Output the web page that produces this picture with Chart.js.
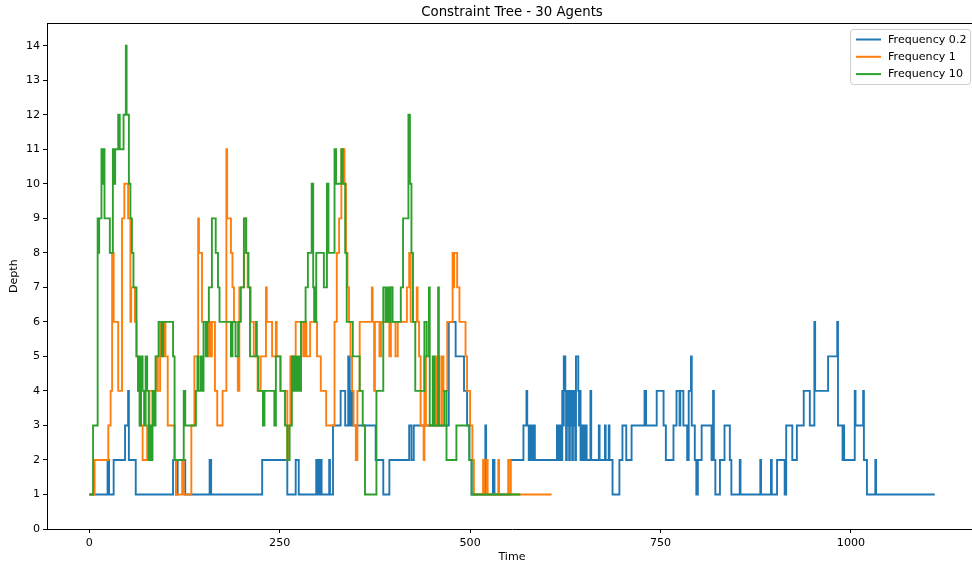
<!DOCTYPE html>
<html><head><meta charset="utf-8">
<script src="https://cdn.jsdelivr.net/npm/chart.js@4/dist/chart.umd.min.js"></script>
<style>
html,body{margin:0;padding:0;background:#fff;overflow:hidden}
#wrap{width:972px;height:565px;overflow:hidden;position:relative;background:#fff}
canvas{display:block}
</style></head>
<body><div id="wrap"><canvas id="c" width="980" height="565"></canvas></div>
<script>
const chartTitle = 'Constraint Tree - 30 Agents';
const xLabel = 'Time';
const yLabel = 'Depth';
const seriesLabels = ['Frequency 0.2', 'Frequency 1', 'Frequency 10'];
const seriesColors = ['#1f77b4', '#ff7f0e', '#2ca02c'];
const xTickValues = [0, 250, 500, 750, 1000];
const yTickValues = [0,1,2,3,4,5,6,7,8,9,10,11,12,13,14];

// Frequency 0.2 : time at which depth changes, and the new depth
const freq02Time = [0,24,26,32,47,51,52,61,110,114,116,126,158,160,227,260,271,275,298,299,301,302,304,305,315,316,
  320,330,336,340,342,344,346,376,386,394,420,423,426,472,481,492,496,499,502,520,521,530,532,553,
  570,574,575,577,579,581,583,585,614,616,618,620,
  621,622,623,625,626,627,628,629,630,631,632,633,634,635,636,637,638,639,642,643,644,645,
  647,649,651,653,658,659,669,670,677,678,682,683,687,696,700,705,712,729,731,745,754,757,767,771,775,776,780,785,
  787,790,791,795,797,799,804,817,819,820,822,828,834,841,843,854,855,881,882,895,896,903,913,915,923,929,
  938,946,952,953,970,982,983,989,990,991,1005,1006,1016,1017,1021,1032,1033,1110];
const freq02Depth = [1,2,1,2,3,4,2,1,2,1,2,1,2,1,2,1,2,1,2,1,2,1,2,1,2,1,
  3,4,3,5,3,4,3,2,1,2,3,2,3,6,5,4,3,2,1,3,1,2,1,2,
  3,4,3,2,3,2,3,2,3,2,3,2,
  4,3,5,4,2,4,3,4,2,4,3,4,2,4,3,4,2,5,4,3,4,2,
  3,2,3,2,4,2,3,2,3,2,3,2,1,2,3,2,3,4,3,4,3,2,3,4,3,4,3,2,
  4,5,3,2,1,2,3,2,4,2,1,2,3,2,1,2,1,2,1,2,1,2,1,3,2,3,
  4,3,6,4,5,6,3,2,3,2,4,3,4,2,1,2,1,1];

// Frequency 1
const freq1Time = [0,7,25,28,30,32,38,43,46,51,54,55,60,62,64,67,70,76,79,88,90,93,96,98,100,103,112,114,122,124,
  134,138,143,144,148,156,158,160,161,165,168,175,180,181,186,188,190,195,197,203,205,206,208,212,216,221,225,
  232,233,240,245,246,251,260,262,264,271,281,283,285,290,295,296,299,304,311,322,325,328,331,335,337,339,341,
  343,345,347,350,352,355,371,372,374,375,381,383,394,396,398,402,405,417,420,422,430,431,433,435,439,440,442,
  455,456,459,460,463,465,470,477,478,479,483,486,494,496,500,503,505,517,519,522,523,537,538,550,553,607];
const freq1Depth = [1,2,3,4,8,6,4,9,10,9,6,7,6,5,4,3,2,3,4,5,4,6,5,6,5,3,2,1,2,1,
  3,5,9,8,6,5,6,5,6,4,3,4,11,9,8,7,6,4,7,8,9,8,7,6,5,4,5,
  7,6,5,6,5,4,2,3,5,6,5,6,5,6,7,6,5,4,3,6,8,9,11,10,8,7,6,
  5,4,3,2,4,6,7,6,4,6,5,6,5,7,6,5,6,7,8,6,7,6,5,3,2,5,3,
  5,3,5,3,5,4,6,8,7,8,7,6,5,4,3,2,1,2,1,2,1,2,1,2,1,1];

// Frequency 10
const freq10Time = [0,5,11,12,13,16,17,18,20,27,31,33,34,38,40,45,48,49,52,54,56,58,62,64,65,66,68,70,72,74,76,78,
  80,81,83,85,87,91,95,97,110,112,124,126,140,142,143,146,148,150,153,155,157,161,166,169,171,186,188,192,196,
  199,203,206,209,211,219,220,222,228,230,243,245,251,257,260,263,266,268,270,272,274,276,278,284,287,292,294,
  296,298,308,312,314,322,324,331,333,336,338,346,355,359,362,377,386,389,391,393,395,398,409,412,419,421,423,
  425,428,440,443,446,447,451,453,458,459,466,469,482,499,502,566];
const freq10Depth = [1,3,9,8,9,11,10,11,9,8,11,10,11,12,11,12,14,12,10,9,8,7,5,4,5,3,5,4,3,5,4,2,
  3,2,4,3,5,6,5,6,5,2,4,3,4,5,4,5,4,6,5,6,7,9,8,7,6,5,6,5,6,
  7,9,8,7,5,6,5,4,3,4,3,5,4,3,2,3,5,4,5,4,5,4,6,7,8,10,7,
  6,8,7,10,8,11,10,11,10,8,6,5,4,3,1,4,7,6,7,6,7,6,7,9,12,10,8,
  6,4,6,5,7,3,5,3,7,3,4,2,3,2,1,1];

function toPoints(times, depths) {
  return times.map((t, i) => ({ x: t, y: depths[i] }));
}

const seriesData = [
  toPoints(freq02Time, freq02Depth),
  toPoints(freq1Time, freq1Depth),
  toPoints(freq10Time, freq10Depth)
];

Chart.defaults.font.family = "'DejaVu Sans', sans-serif";
Chart.defaults.font.size = 11.1;
Chart.defaults.color = '#000';

const frameAndLegend = {
  id: 'frameAndLegend',
  afterDatasetsDraw(chart) {
    const ctx = chart.ctx, a = chart.chartArea;
    ctx.save();
    // top spine
    ctx.strokeStyle = '#000';
    ctx.lineWidth = 1;
    ctx.beginPath();
    ctx.moveTo(a.left, Math.round(a.top) + 0.5);
    ctx.lineTo(a.right, Math.round(a.top) + 0.5);
    ctx.stroke();
    // title centred over the axes
    ctx.fillStyle = '#000';
    ctx.font = "13.3px 'DejaVu Sans', sans-serif";
    ctx.textAlign = 'center';
    ctx.textBaseline = 'middle';
    ctx.fillText(chartTitle, (a.left + a.right) / 2, 13);
    // legend box
    const x = 850.5, y = 29.5, w = 120, h = 55, r = 3;
    ctx.beginPath();
    ctx.moveTo(x + r, y);
    ctx.lineTo(x + w - r, y); ctx.arcTo(x + w, y, x + w, y + r, r);
    ctx.lineTo(x + w, y + h - r); ctx.arcTo(x + w, y + h, x + w - r, y + h, r);
    ctx.lineTo(x + r, y + h); ctx.arcTo(x, y + h, x, y + h - r, r);
    ctx.lineTo(x, y + r); ctx.arcTo(x, y, x + r, y, r);
    ctx.closePath();
    ctx.fillStyle = 'rgba(255,255,255,0.8)';
    ctx.fill();
    ctx.strokeStyle = '#cccccc';
    ctx.stroke();
    ctx.font = "11.1px 'DejaVu Sans', sans-serif";
    ctx.textBaseline = 'middle';
    ctx.textAlign = 'left';
    chart.data.datasets.forEach((ds, i) => {
      const yy = 39.5 + i * 17.3;
      ctx.strokeStyle = ds.borderColor;
      ctx.lineWidth = 2;
      ctx.beginPath();
      ctx.moveTo(856, yy);
      ctx.lineTo(881, yy);
      ctx.stroke();
      ctx.fillStyle = '#000';
      ctx.fillText(ds.label, 888, yy + 0.5);
    });
    ctx.restore();
  }
};

new Chart(document.getElementById('c'), {
  type: 'line',
  data: {
    datasets: seriesLabels.map((label, i) => ({
      label: label,
      data: seriesData[i],
      borderColor: seriesColors[i],
      backgroundColor: seriesColors[i],
      borderWidth: 1.9,
      pointRadius: 0,
      stepped: true,
      tension: 0,
      fill: false,
      order: 3 - i
    }))
  },
  options: {
    responsive: false,
    animation: false,
    devicePixelRatio: 1,
    layout: { padding: { left: 0, right: 3, top: 23.3, bottom: 0 } },
    plugins: {
      legend: { display: false },
      tooltip: { enabled: false },
      title: { display: false }
    },
    scales: {
      x: {
        type: 'linear',
        min: -55.5,
        max: 1165.5,
        afterBuildTicks: (s) => { s.ticks = xTickValues.map(v => ({ value: v })); },
        afterFit: (s) => { s.height = 36; },
        ticks: { color: '#000', padding: 3, maxRotation: 0, autoSkip: false, font: { size: 11.1 },
                 callback: (v) => String(v) },
        grid: { display: true, drawOnChartArea: false, drawTicks: true, tickLength: 4, color: '#000', tickColor: '#000' },
        border: { display: true, color: '#000', width: 1 },
        title: { display: true, text: xLabel, color: '#000', font: { size: 11.1 }, padding: { top: 0, bottom: 1.5 } }
      },
      y: {
        type: 'linear',
        min: 0,
        max: 14.65,
        afterBuildTicks: (s) => { s.ticks = yTickValues.map(v => ({ value: v })); },
        afterFit: (s) => { s.width = 47; },
        ticks: { color: '#000', padding: 3, autoSkip: false, font: { size: 11.1 }, callback: (v) => String(v) },
        grid: { display: true, drawOnChartArea: false, drawTicks: true, tickLength: 4, color: '#000', tickColor: '#000' },
        border: { display: true, color: '#000', width: 1 },
        title: { display: true, text: yLabel, color: '#000', font: { size: 11.1 }, padding: { top: 7, bottom: 0 } }
      }
    }
  },
  plugins: [frameAndLegend]
});
</script>
</body></html>
